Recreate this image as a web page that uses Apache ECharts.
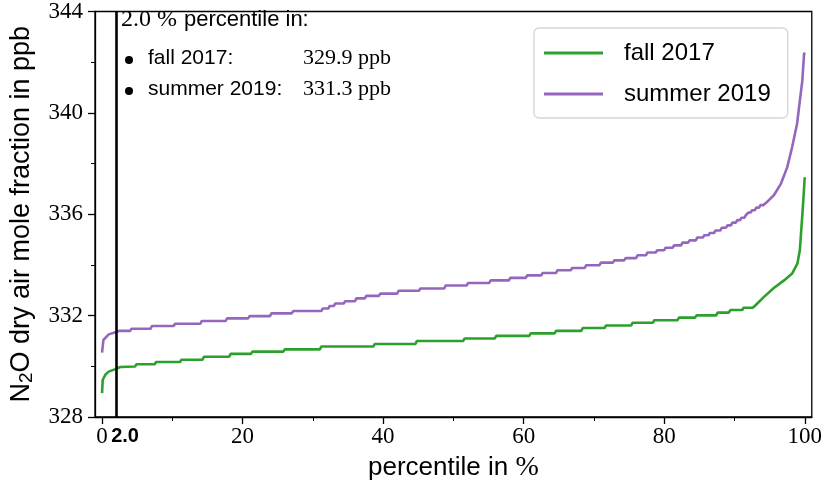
<!DOCTYPE html>
<html>
<head>
<meta charset="utf-8">
<script src="https://cdn.jsdelivr.net/npm/echarts@6/dist/echarts.min.js"></script>
<style>html,body{margin:0;padding:0;background:#fff}#c{width:825px;height:493px}</style>
</head>
<body>
<div id="c"></div>
<script>
// ---- data ----
const seriesNames = ['fall 2017', 'summer 2019'];
const fallPct = [0, 0.1, 0.5, 0.94, 1.9, 2.6, 4.7, 4.9, 7.5, 7.7, 11.1, 11.3, 14.3, 14.5, 18.1, 18.3, 21.2, 21.4, 25.8, 26.0, 31.0, 31.2, 38.6, 38.8, 44.6, 44.8, 51.4, 51.6, 55.9, 56.1, 60.8, 61.0, 64.4, 64.6, 68.2, 68.4, 71.5, 71.7, 75.3, 75.5, 78.4, 78.6, 81.9, 82.1, 84.4, 84.6, 87.4, 87.6, 89.2, 89.4, 91.1, 91.3, 92.6, 93.0, 94.2, 95.6, 97.1, 98.2, 98.95, 99.3, 99.5, 99.7, 99.85, 100];
const fallVal = [328.94, 329.47, 329.68, 329.79, 329.89, 329.97, 329.99, 330.08, 330.08, 330.17, 330.17, 330.26, 330.26, 330.38, 330.38, 330.49, 330.49, 330.58, 330.58, 330.67, 330.67, 330.78, 330.78, 330.88, 330.88, 331.0, 331.0, 331.10, 331.10, 331.20, 331.20, 331.30, 331.30, 331.40, 331.40, 331.51, 331.51, 331.61, 331.61, 331.72, 331.72, 331.82, 331.82, 331.92, 331.92, 332.01, 332.01, 332.12, 332.12, 332.22, 332.22, 332.31, 332.31, 332.41, 332.74, 333.09, 333.40, 333.66, 334.05, 334.58, 335.36, 336.15, 336.8, 337.46];
const summerPct = [0, 0.2, 0.95, 1.9, 2.5, 4.0, 4.2, 6.9, 7.1, 10.2, 10.4, 14.0, 14.2, 17.6, 17.8, 20.8, 21.0, 23.9, 24.1, 27.0, 27.2, 31.2, 31.4, 32.2, 32.4, 33.0, 33.2, 34.4, 34.6, 36.0, 36.2, 37.4, 37.6, 39.4, 39.6, 42.0, 42.2, 45.1, 45.3, 48.7, 48.9, 51.9, 52.1, 55.1, 55.3, 57.9, 58.1, 60.3, 60.5, 62.5, 62.7, 64.6, 64.8, 66.7, 66.9, 68.7, 68.9, 70.8, 71.0, 72.7, 72.9, 74.3, 74.5, 76.0, 76.2, 77.4, 77.6, 78.8, 79.0, 80.0, 80.2, 81.2, 81.4, 82.4, 82.6, 83.4, 83.6, 84.5, 84.7, 85.5, 85.7, 86.3, 86.5, 87.1, 87.3, 88.0, 88.2, 88.8, 89.0, 89.5, 89.7, 90.2, 90.4, 90.8, 91.0, 91.4, 91.6, 91.8, 92.0, 92.3, 92.5, 92.9, 93.1, 93.5, 93.7, 94.1, 94.5, 95.6, 96.6, 97.5, 98.2, 98.9, 99.3, 99.65, 99.9, 100];
const summerVal = [330.54, 331.04, 331.26, 331.34, 331.40, 331.40, 331.48, 331.48, 331.59, 331.59, 331.68, 331.68, 331.79, 331.79, 331.89, 331.89, 331.98, 331.98, 332.09, 332.09, 332.18, 332.18, 332.28, 332.28, 332.38, 332.38, 332.48, 332.48, 332.57, 332.57, 332.68, 332.68, 332.78, 332.78, 332.87, 332.87, 332.98, 332.98, 333.07, 333.07, 333.19, 333.19, 333.29, 333.29, 333.39, 333.39, 333.49, 333.49, 333.59, 333.59, 333.68, 333.68, 333.79, 333.79, 333.88, 333.88, 333.99, 333.99, 334.09, 334.09, 334.18, 334.18, 334.27, 334.27, 334.38, 334.38, 334.49, 334.49, 334.58, 334.58, 334.68, 334.68, 334.77, 334.77, 334.88, 334.88, 334.97, 334.97, 335.08, 335.08, 335.17, 335.17, 335.26, 335.26, 335.36, 335.36, 335.47, 335.47, 335.56, 335.56, 335.67, 335.67, 335.77, 335.77, 335.86, 335.86, 335.96, 335.96, 336.07, 336.07, 336.16, 336.16, 336.26, 336.26, 336.36, 336.36, 336.45, 336.75, 337.20, 337.85, 338.64, 339.56, 340.47, 341.26, 342.31, 342.38];
const xMajorTicks = [0, 20, 40, 60, 80, 100];
const xMinorTicks = [10, 30, 50, 70, 90];
const percentileMark = 2.0;
const percentileText = '2.0';
const infoLabels = ['fall 2017:', 'summer 2019:'];
const infoValues = ['329.9 ppb', '331.3 ppb'];

// ---- chart ----
const SANS = 'Liberation Sans';
const SERIF = 'Liberation Serif';
const colors = ['#2ca02c', '#9467bd'];
const zip = (a, b) => a.map((x, i) => [x, b[i]]);

const chart = echarts.init(document.getElementById('c'), null, {renderer: 'canvas'});
const option = {
  animation: false,
  grid: {left: 95, right: 13, top: 10, bottom: 76, show: true, borderColor: '#000', borderWidth: 1.3, containLabel: false},
  xAxis: [{
    type: 'value', min: -1, max: 101,
    name: '{n|percentile in }{s|%}', nameLocation: 'middle', nameGap: 37,
    nameTextStyle: {rich: {n: {fontFamily: SANS, fontSize: 26, color: '#000'}, s: {fontFamily: SERIF, fontSize: 28, color: '#000'}}},
    axisLine: {show: true, onZero: false, lineStyle: {color: '#000', width: 1.3}},
    axisTick: {show: true, length: 7, lineStyle: {color: '#000', width: 1.3}, customValues: xMajorTicks},
    axisLabel: {show: true, customValues: xMajorTicks, fontFamily: SERIF, fontSize: 23, color: '#000', margin: 8},
    splitLine: {show: false}
  }, {
    type: 'value', min: -1, max: 101, position: 'bottom',
    axisLine: {show: false},
    axisTick: {show: true, length: 4, lineStyle: {color: '#000', width: 1}, customValues: xMinorTicks},
    axisLabel: {show: false},
    splitLine: {show: false}
  }],
  yAxis: {
    type: 'value', min: 328, max: 344, interval: 4,
    name: '{n|N}{sub|2}{n|O dry air mole fraction in ppb}', nameLocation: 'middle', nameGap: 59,
    nameTextStyle: {rich: {n: {fontFamily: SANS, fontSize: 27, color: '#000'}, sub: {fontFamily: SANS, fontSize: 19, color: '#000', padding: [9, 0, 0, 0]}}},
    axisLine: {show: true, onZero: false, lineStyle: {color: '#000', width: 1.3}},
    axisTick: {show: true, length: 7, lineStyle: {color: '#000', width: 1.3}},
    minorTick: {show: true, splitNumber: 2, length: 4, lineStyle: {color: '#000', width: 1}},
    axisLabel: {fontFamily: SERIF, fontSize: 23, color: '#000', margin: 12},
    splitLine: {show: false}, minorSplitLine: {show: false}
  },
  legend: {
    orient: 'vertical', left: 534, top: 28,
    data: seriesNames,
    icon: 'rect', itemWidth: 59, itemHeight: 3, itemGap: 17,
    padding: [13, 17, 12, 10],
    backgroundColor: '#fff', borderColor: '#d6d6d6', borderWidth: 1.3, borderRadius: 5,
    textStyle: {fontFamily: SANS, fontSize: 24, color: '#000', padding: [0, 0, 0, 16]}
  },
  series: [{
    name: seriesNames[0], type: 'line', data: zip(fallPct, fallVal), showSymbol: false,
    lineStyle: {color: colors[0], width: 2.6}, itemStyle: {color: colors[0]},
    markLine: {
      symbol: 'none', silent: true, animation: false,
      lineStyle: {color: '#000', width: 2.6, type: 'solid'},
      label: {show: true, position: 'start', formatter: percentileText, fontFamily: SANS, fontWeight: 'bold', fontSize: 20, color: '#000', offset: [9, 4]},
      data: [{xAxis: percentileMark}]
    }
  }, {
    name: seriesNames[1], type: 'line', data: zip(summerPct, summerVal), showSymbol: false,
    lineStyle: {color: colors[1], width: 2.6}, itemStyle: {color: colors[1]}
  }],
  graphic: [
    {type: 'text', left: 121, top: 8, style: {
      text: '{s|2.0 %}{g|}{n|percentile in:}',
      rich: {s: {fontFamily: SERIF, fontSize: 24, fill: '#000'}, g: {width: 7}, n: {fontFamily: SANS, fontSize: 22, fill: '#000'}}
    }},
    {type: 'circle', shape: {cx: 129, cy: 60, r: 4}, style: {fill: '#000'}},
    {type: 'circle', shape: {cx: 129, cy: 91, r: 4}, style: {fill: '#000'}},
    {type: 'text', left: 148, top: 48, style: {text: infoLabels[0], font: '21px "Liberation Sans"', fill: '#000'}},
    {type: 'text', left: 148, top: 79, style: {text: infoLabels[1], font: '21px "Liberation Sans"', fill: '#000'}},
    {type: 'text', left: 303, top: 47, style: {text: infoValues[0], font: '22px "Liberation Serif"', fill: '#000'}},
    {type: 'text', left: 303, top: 78, style: {text: infoValues[1], font: '22px "Liberation Serif"', fill: '#000'}}
  ]
};
chart.setOption(option);
</script>
</body>
</html>
